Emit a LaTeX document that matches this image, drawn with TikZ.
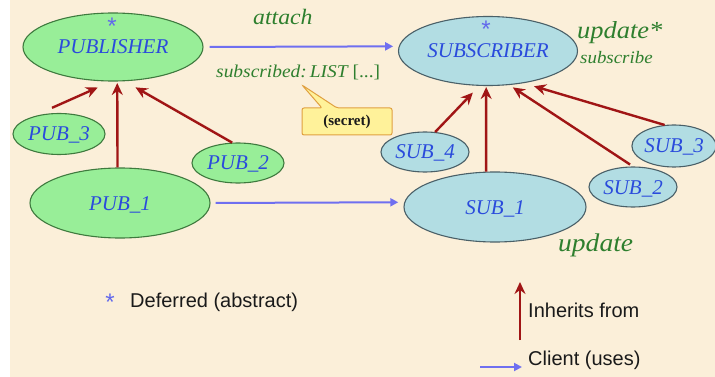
\documentclass[tikz,border=0pt]{standalone}
\usepackage{fontspec}
\setmainfont{Liberation Serif}
\newfontfamily\namefont{Liberation Serif}
\newfontfamily\featfont[FakeStretch=1.08]{Liberation Serif}
\newfontfamily\legendfont{Liberation Sans}
\usetikzlibrary{arrows.meta,shapes.geometric}
\definecolor{bgbeige}{HTML}{FBEFD9}
\definecolor{pubfill}{HTML}{98EE98}
\definecolor{pubdraw}{HTML}{3E7A3E}
\definecolor{subfill}{HTML}{B2DDE3}
\definecolor{subdraw}{HTML}{4A6068}
\definecolor{nametext}{HTML}{2A4BDC}
\definecolor{featgreen}{HTML}{2E7F2E}
\definecolor{inhred}{HTML}{A01515}
\definecolor{cliblue}{HTML}{6F6FF0}
\definecolor{calfill}{HTML}{FFF29A}
\definecolor{caldraw}{HTML}{E0A040}
\definecolor{legtext}{HTML}{1A1A1A}
\tikzset{
  cls/.style={ellipse, inner sep=0pt, line width=1.1pt, text=nametext,
    font=\namefont\itshape\fontsize{21}{21}\selectfont, text height=14pt, text depth=0pt},
  pubcls/.style={cls, fill=pubfill, draw=pubdraw},
  subcls/.style={cls, fill=subfill, draw=subdraw},
  starmark/.style={text=cliblue!80!nametext, font=\legendfont\fontsize{24}{24}\selectfont, inner sep=0pt,
    text height=17.5pt, text depth=-10pt},
  inh/.style={draw=inhred, line width=2.4pt, -{Stealth[length=12pt,width=11pt,inset=4pt]}},
  cli/.style={draw=cliblue, line width=2pt, -{Triangle[length=8pt,width=8pt]}},
  feat/.style={text=featgreen, inner sep=0pt, anchor=base west},
  legend/.style={text=legtext, font=\legendfont\fontsize{20}{20}\selectfont, anchor=west, inner sep=0pt},
}
\begin{document}
\begin{tikzpicture}[x=1pt,y=-1pt]
\fill[white] (0,0) rectangle (715,377);
\useasboundingbox (0,0) rectangle (715,377);
\fill[bgbeige] (10,0) rectangle (715,377);

% classes
\node[pubcls, minimum width=180pt, minimum height=68pt] (publisher) at (113,47) {PUBLISHER};
\node[pubcls, minimum width=92pt, minimum height=41pt] (pub3) at (59,134) {PUB\_3};
\node[pubcls, minimum width=92pt, minimum height=40pt] (pub2) at (238,163) {PUB\_2};
\node[pubcls, minimum width=180pt, minimum height=70pt] (pub1) at (120,203) {PUB\_1};
\node[subcls, minimum width=179pt, minimum height=69pt] (subscriber) at (488,51) {SUBSCRIBER};
\node[subcls, minimum width=88pt, minimum height=40pt] (sub4) at (425,152) {SUB\_4};
\node[subcls, minimum width=84pt, minimum height=42pt] (sub3) at (674,146) {SUB\_3};
\node[subcls, minimum width=88pt, minimum height=40pt] (sub2) at (633,187) {SUB\_2};
\node[subcls, minimum width=182pt, minimum height=70pt] (sub1) at (495,207) {SUB\_1};

\node[starmark] (pubstar) at (112,25.5) {*};
\node[starmark] (substar) at (486,29) {*};

% inheritance
\draw[inh, shorten <=23pt, shorten >=14.7pt] (pub3.149.4) -- (publisher.-93.4);
\draw[inh, shorten >=1.5pt] (pub1.94.9) -- (publisher.-83.3);
\draw[inh, shorten >=12.3pt] (pub2.106.7) -- (publisher.-71.5);
\draw[inh, shorten >=9.3pt] (sub4.63.4) -- (subscriber.-104.1);
\draw[inh, shorten >=1pt] (sub1.104.5) -- (subscriber.-93.3);
\draw[inh, shorten <=3.5pt, shorten >=4.3pt] (sub2.90) -- (subscriber.-58.7);
\draw[inh, shorten >=10.8pt] (sub3.114.2) -- (subscriber.-42.6);

% client
\draw[cli, shorten <=6pt, shorten >=5.6pt] (publisher.east) -- (subscriber.177.4);
\draw[cli, shorten <=5pt, shorten >=6pt] (pub1.east) -- (sub1.177.5);

% features
\node[feat, font=\featfont\itshape\fontsize{22}{22}\selectfont] (attach) at (253,25) {attach};
\node[feat, font=\featfont\fontsize{18}{18}\selectfont] (subscribed) at (216,78) {\itshape subscribed:\kern3pt LIST\upshape{} [...]};
\node[feat, font=\featfont\itshape\fontsize{24.5}{24.5}\selectfont] (updstar) at (577,39) {update*};
\node[feat, font=\featfont\itshape\fontsize{17.5}{17.5}\selectfont] (subscribe) at (580,64) {subscribe};
\node[feat, font=\featfont\itshape\fontsize{25.5}{25.5}\selectfont] (update) at (558,251) {update};

% callout
\draw[fill=calfill, draw=caldraw, line width=1pt, rounded corners=2pt]
  (322,108) -- (302,85) -- (337,108) -- (392,108) -- (392,135) -- (302,135) -- (302,108) -- cycle;
\node[inner sep=0pt, text=legtext, font=\namefont\bfseries\fontsize{15}{15}\selectfont] (secret) at (347,122) {(secret)};

% legend
\node[starmark] (legstar) at (110,301.5) {*};
\node[legend] (deferred) at (130,302) {Deferred (abstract)};
\coordinate (inhA) at (520,340);
\coordinate (inhB) at (520,282);
\draw[inh] (inhA) -- (inhB);
\node[legend] (inherits) at (528,310) {Inherits from};
\coordinate (cliA) at (480,367);
\coordinate (cliB) at (522,367);
\draw[cli] (cliA) -- (cliB);
\node[legend] (client) at (528,360) {Client (uses)};
\end{tikzpicture}
\end{document}
